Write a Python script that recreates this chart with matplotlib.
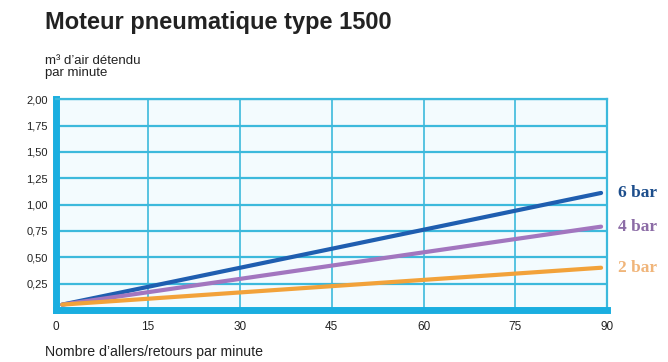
import matplotlib.pyplot as plt

# Données
cadence = [1, 89]
debit_6bar = [0.05, 1.11]
debit_4bar = [0.05, 0.79]
debit_2bar = [0.05, 0.40]
noms = ["6 bar", "4 bar", "2 bar"]
couleurs = ["#1f5eb0", "#a276bf", "#f2a23a"]
couleurs_txt = ["#1d4e8c", "#8c6ca6", "#f0b57a"]
xticks = [0, 15, 30, 45, 60, 75, 90]
yticks = [0.25, 0.50, 0.75, 1.00, 1.25, 1.50, 1.75, 2.00]

plt.rcParams['font.family'] = ['Liberation Sans', 'DejaVu Sans']

fig = plt.figure(figsize=(6.68, 3.62), dpi=100)
ax = fig.add_axes([0.084, 0.144, 0.825, 0.582])
ax.set_facecolor("#f3fbfe")

grille = "#3cb9dc"
for v in xticks[1:]:
    ax.axvline(v, color=grille, lw=1.2, zorder=1)
for v in yticks:
    ax.axhline(v, color=grille, lw=1.6, zorder=1)

for y, c in zip([debit_6bar, debit_4bar, debit_2bar], couleurs):
    ax.plot(cadence, y, color=c, lw=3, solid_capstyle="round", zorder=3)

ax.set_xlim(0, 90)
ax.set_ylim(0, 2.0)
ax.set_xticks(xticks)
ax.set_xticklabels([str(v) for v in xticks])
ax.set_yticks(yticks)
ax.set_yticklabels([f"{v:.2f}".replace(".", ",") for v in yticks])
ax.tick_params(axis="y", length=0, labelsize=8, colors="#222222", pad=6)
ax.tick_params(axis="x", length=0, labelsize=8.5, colors="#222222", pad=8)

for s in ["left", "bottom"]:
    ax.spines[s].set_color("#1aaee0")
    ax.spines[s].set_linewidth(5)
for s in ["top", "right"]:
    ax.spines[s].set_color(grille)
    ax.spines[s].set_linewidth(1.6)

# étiquettes des courbes
for nom, y, c in zip(noms, [debit_6bar, debit_4bar, debit_2bar], couleurs_txt):
    ax.annotate(nom, xy=(cadence[-1], y[-1]), xytext=(12, 0), textcoords="offset points",
                va="center", ha="left", fontsize=12.5, fontweight="bold",
                color=c, family="Liberation Serif", annotation_clip=False)

fig.text(0.068, 0.938, "Moteur pneumatique type 1500", fontsize=17, fontweight="bold",
         color="#222222", va="center")
fig.text(0.068, 0.815, "m³ d’air détendu\npar minute", fontsize=9.5, color="#222222",
         va="center", linespacing=1.1)
fig.text(0.068, 0.027, "Nombre d’allers/retours par minute", fontsize=10.2,
         color="#222222", va="center")

plt.savefig("out.png", dpi=100)
